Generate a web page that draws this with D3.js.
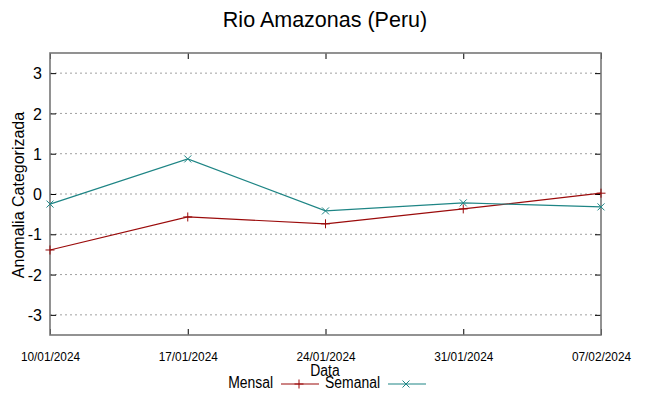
<!DOCTYPE html>
<html>
<head>
<meta charset="utf-8">
<script src="https://cdn.jsdelivr.net/npm/d3@7"></script>
<style>
  body { margin: 0; background: #fff; }
  text { font-family: "Liberation Sans", Arial, sans-serif; fill: #000; }
</style>
</head>
<body>
<div id="chart"></div>
<script>
// datas (dd/mm/yyyy) e valores
var dates = ["10/01/2024", "17/01/2024", "24/01/2024", "31/01/2024", "07/02/2024"];
var mensal = [-1.39, -0.57, -0.74, -0.37, 0.02];
var semanal = [-0.25, 0.87, -0.42, -0.22, -0.32];
var yTicks = [-3, -2, -1, 0, 1, 2, 3];

var width = 649, height = 396;
var margin = {top: 53, right: 48, bottom: 61, left: 50};
var w = width - margin.left - margin.right,
    h = height - margin.top - margin.bottom;

var parse = d3.timeParse("%d/%m/%Y");
var fmt = d3.timeFormat("%d/%m/%Y");
var dd = dates.map(parse);

var x = d3.scaleTime()
    .domain(d3.extent(dd))
    .range([0, w]);
var y = d3.scaleLinear()
    .domain([-3.5, 3.5])
    .range([h, 0]);

var svg = d3.select("#chart").append("svg")
    .attr("width", width)
    .attr("height", height);

// fonte estreita: comprime o texto na horizontal
function narrow(ratio) {
    return function(sel) {
        sel.each(function() {
            var len = this.getComputedTextLength();
            d3.select(this)
                .attr("textLength", len * ratio)
                .attr("lengthAdjust", "spacingAndGlyphs");
        });
    };
}

svg.append("text")
    .attr("x", 325).attr("y", 27)
    .attr("text-anchor", "middle")
    .style("font-size", "21.5px")
    .text("Rio Amazonas (Peru)");

var g = svg.append("g")
    .attr("transform", "translate(" + margin.left + "," + margin.top + ")");

// grid
g.selectAll(".grid")
    .data(yTicks)
    .enter().append("line")
    .attr("x1", 0).attr("x2", w)
    .attr("y1", function(d) { return y(d); })
    .attr("y2", function(d) { return y(d); })
    .attr("stroke", "#a0a0a0")
    .attr("stroke-width", 1)
    .attr("stroke-dasharray", "2,3");

// y axis (left, inward ticks)
var yAxis = g.append("g")
    .call(d3.axisLeft(y).tickValues(yTicks).tickSize(-6).tickPadding(8)
        .tickFormat(function(d) { return String(d); }));
yAxis.select(".domain").remove();
yAxis.selectAll("line").attr("stroke", "#000");
yAxis.selectAll("text").style("font-size", "16px").attr("fill", "#222").attr("dy", "0.35em");

var yAxisR = g.append("g")
    .attr("transform", "translate(" + w + ",0)")
    .call(d3.axisRight(y).tickValues(yTicks).tickSize(-6).tickFormat(""));
yAxisR.select(".domain").remove();
yAxisR.selectAll("line").attr("stroke", "#000");

// x axis (bottom, inward ticks)
var xAxis = g.append("g")
    .attr("transform", "translate(0," + h + ")")
    .call(d3.axisBottom(x).tickValues(dd).tickSize(-6).tickPadding(17).tickFormat(fmt));
xAxis.select(".domain").remove();
xAxis.selectAll("line").attr("stroke", "#000");
xAxis.selectAll("text")
    .style("font-size", "13px")
    .attr("fill", "#222")
    .call(narrow(0.91));

var xAxisT = g.append("g")
    .call(d3.axisTop(x).tickValues(dd).tickSize(-6).tickFormat(""));
xAxisT.select(".domain").remove();
xAxisT.selectAll("line").attr("stroke", "#000");

// border
g.append("rect")
    .attr("x", 0).attr("y", 0)
    .attr("width", w).attr("height", h)
    .attr("fill", "none")
    .attr("stroke", "#777")
    .attr("stroke-width", 1.6);

// labels
svg.append("text")
    .attr("transform", "translate(24," + (margin.top + h / 2 + 1) + ") rotate(-90)")
    .attr("text-anchor", "middle")
    .style("font-size", "16px")
    .text("Anomalia Categorizada");

svg.append("text")
    .attr("x", 325).attr("y", 376)
    .attr("text-anchor", "middle")
    .style("font-size", "16px")
    .text("Data")
    .call(narrow(0.87));

// series
var series = [
    {name: "Mensal", values: mensal, color: "#9b0b0b", marker: "plus"},
    {name: "Semanal", values: semanal, color: "#1e8585", marker: "cross"}
];

var line = d3.line()
    .x(function(d, i) { return x(dd[i]); })
    .y(function(d) { return y(d); });

function marker(sel, type, color) {
    var p = type === "plus" ? "M-4.5,0H4.5M0,-4.5V4.5" : "M-3.5,-3.5L3.5,3.5M-3.5,3.5L3.5,-3.5";
    sel.append("path").attr("d", p).attr("stroke", color).attr("stroke-width", 1).attr("fill", "none");
}

series.forEach(function(s) {
    g.append("path")
        .datum(s.values)
        .attr("fill", "none")
        .attr("stroke", s.color)
        .attr("stroke-width", 1.2)
        .attr("d", line);
    s.values.forEach(function(v, i) {
        var m = g.append("g").attr("transform", "translate(" + x(dd[i]) + "," + y(v) + ")");
        marker(m, s.marker, s.color);
    });
});

// legend
var legendX = [273, 380];
series.forEach(function(s, i) {
    var lg = svg.append("g");
    lg.append("text")
        .attr("x", legendX[i]).attr("y", 388)
        .attr("text-anchor", "end")
        .style("font-size", "16px")
        .text(s.name)
        .call(narrow(0.87));
    lg.append("line")
        .attr("x1", legendX[i] + 8).attr("x2", legendX[i] + 46)
        .attr("y1", 384).attr("y2", 384)
        .attr("stroke", s.color)
        .attr("stroke-width", 1.2);
    var m = lg.append("g").attr("transform", "translate(" + (legendX[i] + 26) + ",384)");
    marker(m, s.marker, s.color);
});
</script>
</body>
</html>
